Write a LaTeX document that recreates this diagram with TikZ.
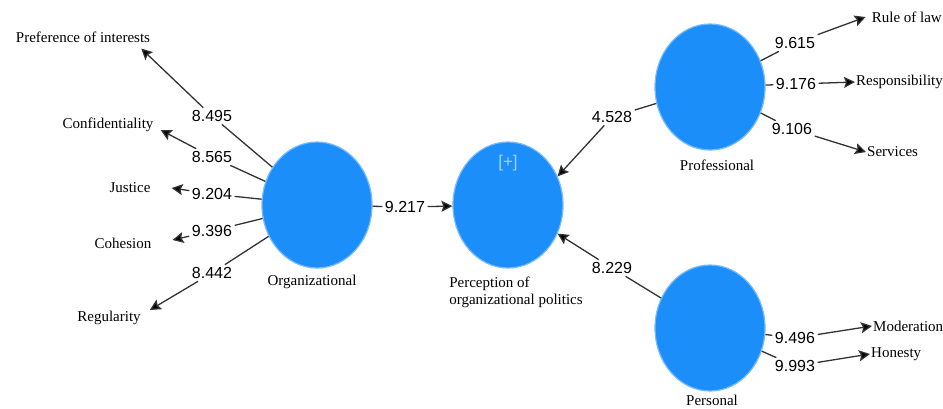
\documentclass[tikz,border=0pt]{standalone}
\usepackage{fontspec}
\setmainfont{Liberation Serif}
\setsansfont{Liberation Sans}
\usetikzlibrary{shapes.geometric, arrows.meta}

\definecolor{lvblue}{RGB}{28,142,250}
\definecolor{plusblue}{RGB}{160,210,255}
\definecolor{pathgray}{RGB}{50,50,50}

\tikzset{
	lv/.style={ellipse, fill=lvblue, draw=lvblue!60!white, line width=1.2pt,
		minimum width=110pt, minimum height=126pt, inner sep=0pt},
	ind/.style={inner sep=1pt, font=\fontsize{15}{17}\selectfont},
	wt/.style={inner sep=2.5pt, font=\sffamily\fontsize{16}{18}\selectfont},
	link/.style={draw=pathgray, line width=1.3pt},
	load/.style={link, -{Stealth[length=11pt, width=11pt, inset=2pt, fill=black]}}
}

\begin{document}
\begin{tikzpicture}[x=1pt, y=-1pt]
		\useasboundingbox (0,0) rectangle (943,408);
		\clip (0,0) rectangle (943,408);
		
		% latent variables
		\node[lv] (org) at (317,205) {};
		\node[lv] (perc) at (508,205) {};
		\node[lv] (prof) at (710,87) {};
		\node[lv] (pers) at (710,328) {};
		\node[text=plusblue, font=\sffamily\fontsize{17}{17}\selectfont] (plus) at (508,163) {[+]};
		
		% latent variable names
		\node[ind] (orgname) at (312,282) {Organizational};
		\node[ind, align=left] (percname) at (516,292) {Perception of\\organizational politics};
		\node[ind] (profname) at (717,165) {Professional};
		\node[ind] (persname) at (712,400) {Personal};
		
		% indicators, left
		\node[ind] (pref) at (83,37) {Preference of interests};
		\node[ind] (conf) at (108,125) {Confidentiality};
		\node[ind] (just) at (130,188) {Justice};
		\node[ind] (coh) at (123,243) {Cohesion};
		\node[ind] (reg) at (109,318) {Regularity};
		
		% indicators, right
		\node[ind, anchor=east] (rule) at (943,17) {Rule of law};
		\node[ind, anchor=west] (resp) at (855,82) {Responsibility};
		\node[ind, anchor=west] (serv) at (866,152) {Services};
		\node[ind, anchor=west] (mod) at (872,326) {Moderation};
		\node[ind, anchor=west] (hon) at (870,354) {Honesty};
		
		% outer weights, left
		\foreach \n/\y/\v in {1/116/8.495, 2/157/8.565, 3/194/9.204, 4/231/9.396, 5/273/8.442}{
		    \node[wt] (wl\n) at (212,\y) {\v};
		    \draw[link] (org) -- (wl\n);
		}
		\draw[load] (wl1) -- ([shift={(-10,5)}]pref.south east);
		\draw[load] (wl2) -- ([shift={(6,5)}]conf.east);
		\draw[load] (wl3) -- ([xshift=20pt]just.east);
		\draw[load] (wl4) -- ([shift={(20,-3)}]coh.east);
		\draw[load] (wl5) -- ([shift={(8,-8)}]reg.east);
		
		% outer weights, right
		\node[wt] (wr1) at (795,43) {9.615};
		\node[wt] (wr2) at (796,84) {9.176};
		\node[wt] (wr3) at (792,129) {9.106};
		\node[wt] (wr4) at (795,338) {9.496};
		\node[wt] (wr5) at (795,366) {9.993};
		\foreach \n in {1,2,3}{
		    \draw[link] (prof) -- (wr\n);
		}
		\foreach \n in {4,5}{
		    \draw[link] (pers) -- (wr\n);
		}
		\draw[load] (wr1) -- ([xshift=-5pt]rule.west);
		\draw[load] (wr2) -- (resp.west);
		\draw[load] (wr3) -- (serv.west);
		\draw[load] (wr4) -- (mod.west);
		\draw[load] (wr5) -- (hon.west);
		
		% inner paths
		\node[wt] (p1) at (405,207) {9.217};
		\node[wt] (p2) at (612,117) {4.528};
		\node[wt] (p3) at (612,268) {8.229};
		\draw[link] (org) -- (p1);
		\draw[load] (p1) -- (perc);
		\draw[link] (prof) -- (p2);
		\draw[load] (p2) -- (perc.30);
		\draw[link] (pers) -- (p3);
		\draw[load] (p3) -- (perc.-30);
	\end{tikzpicture}
\end{document}
